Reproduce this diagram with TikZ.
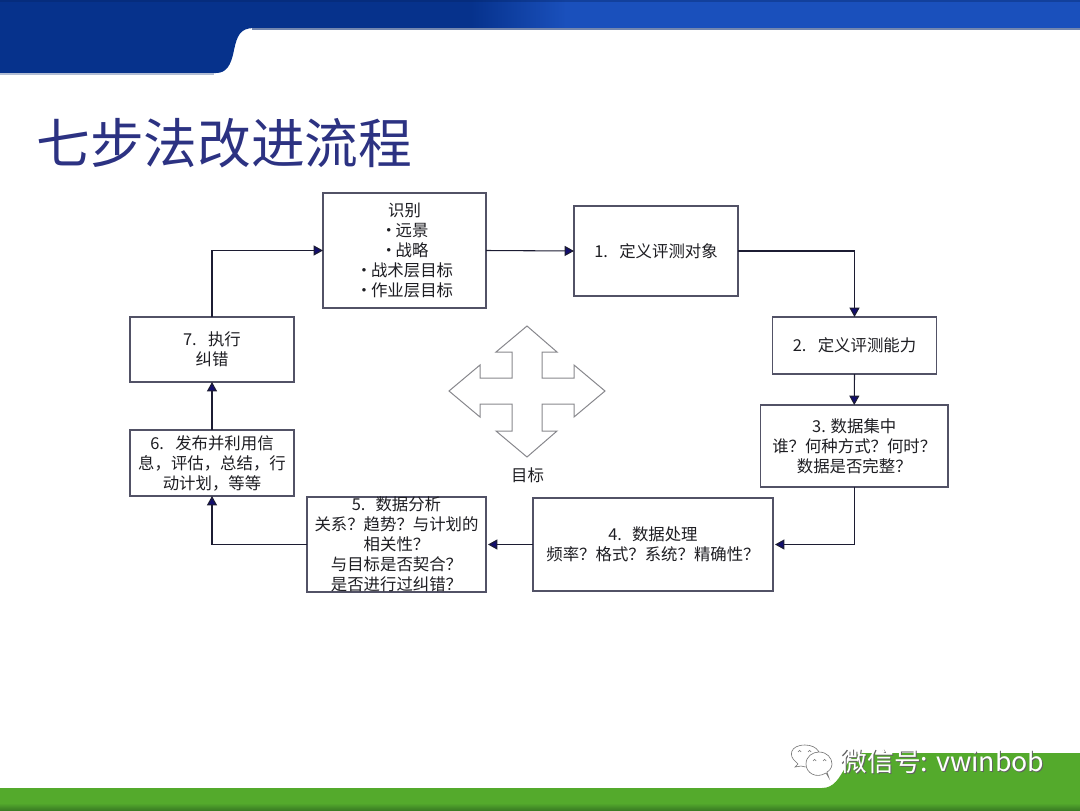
\documentclass[tikz,border=0pt]{standalone}
\usepackage{fontspec}
\setmainfont{Noto Sans CJK SC}
\usetikzlibrary{arrows.meta}
\definecolor{bandDark}{RGB}{6,50,140}
\definecolor{bandBright}{RGB}{26,80,188}
\definecolor{bandEdge}{RGB}{115,135,175}
\definecolor{titleBlue}{RGB}{44,50,130}
\definecolor{footGreen}{RGB}{84,170,44}
\definecolor{footDark}{RGB}{58,125,36}
\definecolor{navyTip}{RGB}{18,14,110}
\definecolor{wireDark}{RGB}{28,28,50}
\definecolor{boxEdge}{RGB}{82,82,102}
\definecolor{crossEdge}{RGB}{135,135,140}
\definecolor{bodyText}{RGB}{30,30,35}
\newcommand{\dotitem}{•\hspace{-3.75pt} }
\tikzset{
  stepbox/.style={draw=boxEdge,line width=1.1pt,fill=white,inner sep=0pt,outer sep=0pt,
    align=center,text=bodyText,font=\fontsize{12.3}{15}\selectfont},
  flow/.style={draw=wireDark,line width=0.8pt,-{Triangle[length=7pt,width=7.5pt,fill=navyTip]}},
  gapflow/.style={flow,shorten >=1.5pt},
  crossline/.style={draw=crossEdge,line width=0.75pt,line join=miter},
  bubble/.style={draw=black!55,line width=0.45pt,fill=white}
}
\begin{document}
\begin{tikzpicture}[x=0.75pt,y=-0.75pt]
\useasboundingbox (0,0) rectangle (1080,810);

% header band with its tab on the left
\fill[bandDark] (0,0) -- (472,0) -- (472,28) -- (254,28)
  .. controls (240,28) and (237,36) .. (234,50)
  .. controls (231,66) and (226,73) .. (216,73) -- (0,73) -- cycle;
\shade[left color=bandDark,right color=bandBright] (471,0) rectangle (566,28);
\fill[bandBright] (565,0) rectangle (1080,28);
\fill[bandDark!70!black,opacity=.35] (0,0) rectangle (1080,2);
\fill[bandEdge] (252,28) rectangle (1080,30);
\fill[bandEdge!55!white] (0,73) rectangle (214,75);

% footer band
\fill[footGreen] (0,788) -- (822,788)
  .. controls (834,788) and (839,778) .. (845,768)
  .. controls (850,758) and (855,753) .. (866,753)
  -- (1080,753) -- (1080,810) -- (0,810) -- cycle;
\shade[top color=footGreen,bottom color=footDark] (0,803) rectangle (1080,810);

% title
\node[anchor=west,inner sep=0pt,text=titleBlue,font=\fontsize{40.3}{44}\selectfont] (title) at (36,143) {七步法改进流程};

% process boxes
\node[stepbox,minimum width=122.25pt,minimum height=86.25pt] (idn) at (404.5,250.5)
  {识别\\\dotitem 远景\\\dotitem 战略\\\dotitem 战术层目标\\\dotitem 作业层目标};
\node[stepbox,minimum width=123pt,minimum height=67.5pt] (s1) at (656,251) {1.\ \ \hspace{3pt}定义评测对象};
\node[stepbox,minimum width=123pt,minimum height=42.75pt] (s2) at (854.5,345.5) {2.\ \ \hspace{3pt}定义评测能力};
\node[stepbox,minimum width=140.6pt,minimum height=61.5pt] (s3) at (854.25,446)
  {3. 数据集中\\谁？何种方式？何时？\\数据是否完整？};
\node[stepbox,minimum width=180pt,minimum height=69.75pt] (s4) at (653,544.5)
  {4.\ \ \hspace{2pt}数据处理\\频率？格式？系统？精确性？};
\node[stepbox,minimum width=134.25pt,minimum height=69.75pt] (s5) at (396.5,544.5)
  {5.\ \ \hspace{2pt}数据分析\\关系？趋势？与计划的\\相关性？\\与目标是否契合？\\是否进行过纠错？};
\node[stepbox,minimum width=123pt,minimum height=49.5pt] (s6) at (212,463)
  {6.\ \ \hspace{3pt}发布并利用信\\息，评估，总结，行\\动计划，等等};
\node[stepbox,minimum width=123pt,minimum height=48.75pt] (s7) at (212,349.5) {7.\ \ \hspace{3pt}执行\\纠错};

% connectors around the loop
\draw[flow] (idn.east) -- (s1.west);
\draw[flow] (s1.east) -| (s2.north);
\draw[flow] (s2.south) -- (s3.north);
\draw[gapflow] (s3.south) |- (s4.east);
\draw[gapflow] (s4.west) -- (s5.east);
\draw[flow] (s5.west) -| (s6.south);
\draw[flow] (s6.north) -- (s7.south);
\draw[flow] (s7.north) |- (idn.west);

% four-way arrow in the middle
\draw[crossline] (527,326) -- (557,352) -- (542,352) -- (542,378) -- (574,378) -- (574,365)
  -- (605,391) -- (574,417) -- (574,404) -- (542,404) -- (542,431) -- (557,431)
  -- (527,457) -- (496,431) -- (512,431) -- (512,404) -- (480,404) -- (480,417)
  -- (449,391) -- (480,365) -- (480,378) -- (512,378) -- (512,352) -- (496,352) -- cycle;
\node[inner sep=0pt,text=bodyText,font=\fontsize{12.3}{15}\selectfont] (goal) at (527.5,475) {目标};

% chat bubbles beside the account name
\draw[bubble] (795,767) -- (798,764) -- (796,762) .. controls (788,756) and (790,745) .. (805,745)
  .. controls (818,745) and (823,755) .. (818,762) .. controls (814,767) and (806,768) .. (801,766) -- cycle;
\draw[bubble] (829,778) -- (826,773) .. controls (816,779) and (806,773) .. (806,764)
  .. controls (806,756) and (813,752) .. (819,752) .. controls (827,752) and (832,758) .. (832,764)
  .. controls (832,768) and (829,771) .. (827,772) -- cycle;
\draw[black!55,line width=0.45pt] (798,752) arc (180:360:1.6);
\draw[black!55,line width=0.45pt] (808,752) arc (180:360:1.6);
\draw[black!55,line width=0.45pt] (813,761) arc (180:360:1.6);
\draw[black!55,line width=0.45pt] (823,761) arc (180:360:1.6);

% account name with a soft drop shadow
\node[anchor=west,inner sep=0pt,text=black!62,font=\fontsize{20}{24}\selectfont] (wxshade) at (841.7,762.7) {微信号: vwinbob};
\node[anchor=west,inner sep=0pt,text=white,font=\fontsize{20}{24}\selectfont] (wx) at (840.5,761.5) {微信号: vwinbob};
\end{tikzpicture}
\end{document}
